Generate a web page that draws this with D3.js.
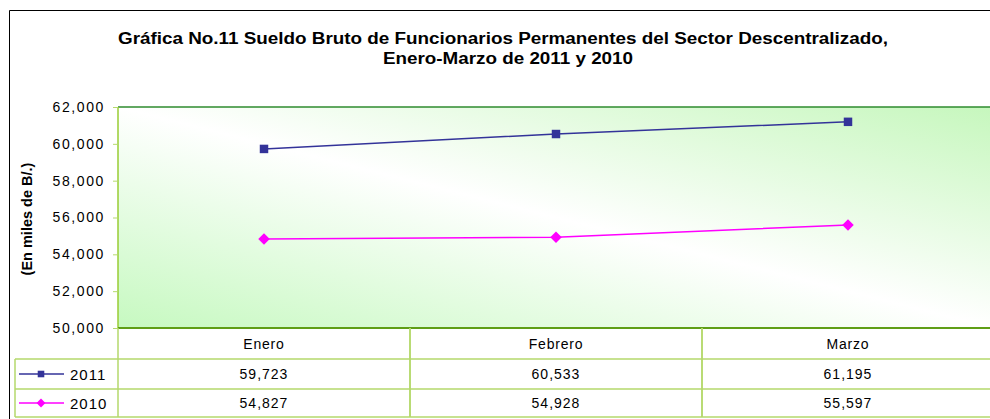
<!DOCTYPE html>
<html>
<head>
<meta charset="utf-8" />
<script src="https://cdn.jsdelivr.net/npm/d3@7/dist/d3.min.js"></script>
<style>
    body { margin: 0; background: #fff; }
    text { font-family: "Liberation Sans", Arial, sans-serif; fill: #000; }
</style>
</head>
<body>
<svg width="990" height="419"></svg>
<script>
    var meses = ["Enero", "Febrero", "Marzo"];
    var serie2011 = [59723, 60533, 61195];
    var serie2010 = [54827, 54928, 55597];
    var yTicks = [50000, 52000, 54000, 56000, 58000, 60000, 62000];

    var svg = d3.select("svg");
    var pLeft = 118, pRight = 994, pTop = 107, pBottom = 328;

    var x = d3.scaleBand().domain(meses).range([pLeft, pRight]);
    var y = d3.scaleLinear().domain([50000, 62000]).range([pBottom, pTop]);
    var fmt = d3.format(",");

    // marco exterior
    svg.append("path").attr("d", "M9.5,419 V10.5 H990")
        .attr("fill", "none").attr("stroke", "#000").attr("stroke-width", 1);

    // titulo
    svg.append("text").attr("x", 503).attr("y", 44).attr("text-anchor", "middle")
        .attr("font-weight", "bold").attr("font-size", 16)
        .attr("textLength", 770).attr("lengthAdjust", "spacingAndGlyphs")
        .text("Gráfica No.11 Sueldo Bruto de Funcionarios Permanentes del Sector Descentralizado,");
    svg.append("text").attr("x", 508).attr("y", 64).attr("text-anchor", "middle")
        .attr("font-weight", "bold").attr("font-size", 16)
        .attr("textLength", 250).attr("lengthAdjust", "spacingAndGlyphs")
        .text("Enero-Marzo de 2011 y 2010");

    // fondo degradado
    var grad = svg.append("defs").append("linearGradient").attr("id", "fondo")
        .attr("x1", 0).attr("y1", 1).attr("x2", 1).attr("y2", 0);
    grad.append("stop").attr("offset", 0).attr("stop-color", "#c6f9c0");
    grad.append("stop").attr("offset", 0.5).attr("stop-color", "#ffffff");
    grad.append("stop").attr("offset", 1).attr("stop-color", "#c6f7bd");

    svg.append("rect").attr("x", pLeft).attr("y", pTop)
        .attr("width", pRight - pLeft).attr("height", pBottom - pTop)
        .attr("fill", "url(#fondo)");

    // bordes del area
    svg.append("line").attr("x1", pLeft).attr("x2", pRight).attr("y1", pTop).attr("y2", pTop)
        .attr("stroke", "#2e8b2e").attr("stroke-width", 1.5);
    svg.append("line").attr("x1", pLeft).attr("x2", pLeft).attr("y1", pTop).attr("y2", pBottom)
        .attr("stroke", "#99cc33").attr("stroke-width", 1.5);
    svg.append("line").attr("x1", pLeft).attr("x2", pRight).attr("y1", pBottom).attr("y2", pBottom)
        .attr("stroke", "#5f9e16").attr("stroke-width", 2);

    // eje y
    var yAxis = svg.append("g").attr("transform", "translate(" + pLeft + ",0)")
        .call(d3.axisLeft(y).tickValues(yTicks).tickSize(5).tickPadding(8).tickFormat(fmt));
    yAxis.select(".domain").remove();
    yAxis.selectAll(".tick line").attr("stroke", "#b5d96b");
    yAxis.selectAll(".tick text").attr("font-size", 14).attr("letter-spacing", "1.6px")
        .style("font-family", "'Liberation Sans', Arial, sans-serif").attr("fill", "#000");

    svg.append("text").attr("transform", "translate(32,219) rotate(-90)")
        .attr("text-anchor", "middle").attr("font-weight", "bold").attr("font-size", 14.5)
        .text("(En miles de B/.)");

    // tabla de datos
    var tablaColor = "#b5d96b";
    var rowH = [328, 359, 389, 417];
    var lineas = svg.append("g").attr("stroke", tablaColor).attr("stroke-width", 1.5);
    meses.forEach(function (m) {
        var xb = x(m) + x.bandwidth();
        lineas.append("line").attr("x1", x(m)).attr("x2", x(m)).attr("y1", pBottom).attr("y2", rowH[3]);
        lineas.append("line").attr("x1", xb).attr("x2", xb).attr("y1", pBottom).attr("y2", rowH[3]);
    });
    lineas.append("line").attr("x1", 15).attr("x2", 15).attr("y1", rowH[1]).attr("y2", rowH[3]);
    [1, 2, 3].forEach(function (k) {
        lineas.append("line").attr("x1", 15).attr("x2", pRight).attr("y1", rowH[k]).attr("y2", rowH[k]);
    });

    svg.selectAll(".mes").data(meses).enter().append("text")
        .attr("x", function (d) { return x(d) + x.bandwidth() / 2; })
        .attr("y", 349).attr("text-anchor", "middle").attr("font-size", 14)
        .attr("letter-spacing", "0.8px").text(function (d) { return d; });

    // rombo = cuadrado girado 45 grados
    var series = [
        { name: "2011", values: serie2011, color: "#333399", size: 72, rot: 0, row: 1 },
        { name: "2010", values: serie2010, color: "#ff00ff", size: 66, rot: 45, row: 2 }
    ];

    series.forEach(function (s) {
        var yc = (rowH[s.row] + rowH[s.row + 1]) / 2;
        svg.selectAll(".v" + s.name).data(s.values).enter().append("text")
            .attr("x", function (d, i) { return x(meses[i]) + x.bandwidth() / 2; })
            .attr("y", yc + 5).attr("text-anchor", "middle").attr("font-size", 14)
            .attr("letter-spacing", "1px").text(function (d) { return fmt(d); });

        // leyenda
        svg.append("line").attr("x1", 19).attr("x2", 64).attr("y1", yc).attr("y2", yc)
            .attr("stroke", s.color).attr("stroke-width", 1.5);
        svg.append("path").attr("d", d3.symbol().type(d3.symbolSquare).size(s.size * 0.6)())
            .attr("transform", "translate(41," + yc + ") rotate(" + s.rot + ")").attr("fill", s.color);
        svg.append("text").attr("x", 70).attr("y", yc + 6).attr("font-size", 15)
            .attr("letter-spacing", "1px").text(s.name);

        // linea
        var line = d3.line()
            .x(function (d, i) { return x(meses[i]) + x.bandwidth() / 2; })
            .y(function (d) { return y(d); });
        svg.append("path").datum(s.values).attr("d", line)
            .attr("fill", "none").attr("stroke", s.color).attr("stroke-width", 1.5);
        svg.selectAll(".m" + s.name).data(s.values).enter().append("path")
            .attr("d", d3.symbol().type(d3.symbolSquare).size(s.size))
            .attr("transform", function (d, i) {
                return "translate(" + (x(meses[i]) + x.bandwidth() / 2) + "," + y(d) + ") rotate(" + s.rot + ")";
            })
            .attr("fill", s.color);
    });
</script>
</body>
</html>
